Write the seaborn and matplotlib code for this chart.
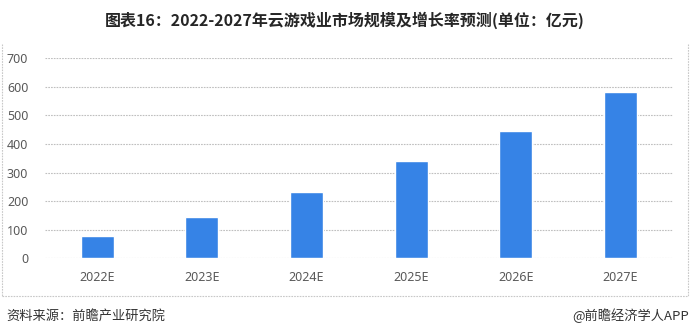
import matplotlib
matplotlib.use("Agg")
import matplotlib.pyplot as plt
import seaborn as sns
import pandas as pd
from matplotlib.lines import Line2D

categories = ["2022E", "2023E", "2024E", "2025E", "2026E", "2027E"]
values = [78, 144, 232, 341, 447, 581]
yticks = [0, 100, 200, 300, 400, 500, 600, 700]

sns.set_theme(style="white")
plt.rcParams['font.family'] = ['Noto Sans CJK SC', 'DejaVu Sans']

df = pd.DataFrame({"year": categories, "value": values})

fig = plt.figure(figsize=(6.9, 3.36), dpi=100)
ax = fig.add_axes([45/690, 1-258.3/336, (672.7-45)/690, 200/336])

sns.barplot(data=df, x="year", y="value", color="#3683E6", width=0.315,
            saturation=1, ax=ax, zorder=3)

ax.set_xlim(-0.5, 5.5)
ax.set_ylim(0, 700)
ax.set_yticks(yticks)
ax.set_yticklabels([str(t) for t in yticks])
ax.set_xlabel("")
ax.set_ylabel("")
for s in ax.spines.values():
    s.set_visible(False)
ax.yaxis.grid(True, color="#BFBFBF", linestyle=(0, (1.5, 1)), linewidth=0.8, zorder=0)
ax.set_axisbelow(True)
ax.tick_params(axis="both", length=0, labelsize=9, colors="#595959")
ax.tick_params(axis="y", pad=12)
ax.tick_params(axis="x", pad=9)
for lbl in ax.get_xticklabels() + ax.get_yticklabels():
    lbl.set_fontfamily(['Noto Sans', 'DejaVu Sans'])

fig.text(0.5, 1-20/336, "图表16：2022-2027年云游戏业市场规模及增长率预测(单位：亿元)",
         ha="center", va="center", fontsize=11.5, fontweight="bold", color="#262626")

# outer dotted frame
frame_kw = dict(color="#C8C8C8", linestyle=(0, (1.5, 1)), linewidth=0.8,
                transform=fig.transFigure)
fig.add_artist(Line2D([1.5/690, 1.5/690], [1-44/336, 1-296/336], **frame_kw))
fig.add_artist(Line2D([1.5/690, 688/690], [1-296/336, 1-296/336], **frame_kw))
fig.add_artist(Line2D([688/690, 688/690], [1-44/336, 1-296/336], **frame_kw))

fig.text(6/690, 1-316/336, "资料来源：前瞻产业研究院", ha="left", va="center",
         fontsize=9.5, color="#333333")
fig.text(689/690, 1-316/336, "@前瞻经济学人APP", ha="right", va="center",
         fontsize=9.5, color="#333333")

fig.savefig("out.png", dpi=100)
